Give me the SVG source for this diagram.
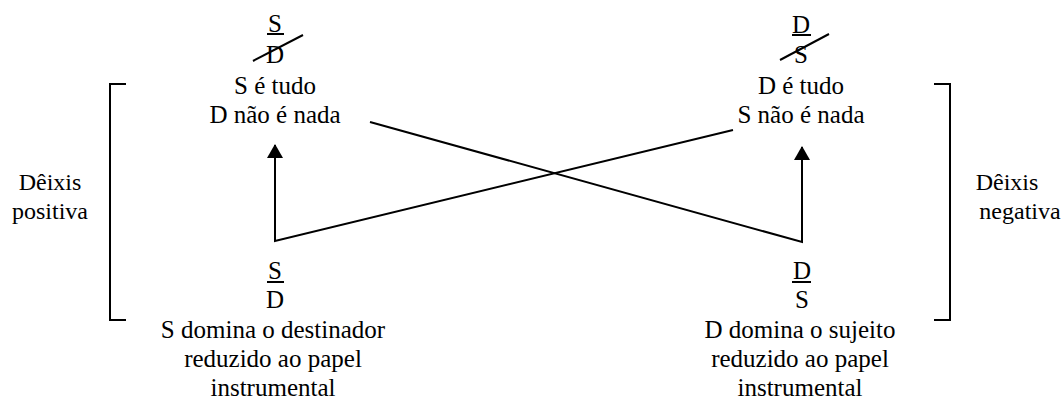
<svg xmlns="http://www.w3.org/2000/svg" width="1064" height="403" viewBox="0 0 1064 403">
  <style>
    text { font-family: "Liberation Serif", "Times New Roman", serif; font-size: 25px; fill: #000; text-anchor: middle; }
    .side { font-size: 24px; }
    .ln { stroke: #000; stroke-width: 2; fill: none; }
    .bk { stroke: #000; stroke-width: 2; fill: none; }
  </style>
  <defs>
    <marker id="arrow" viewBox="0 0 14 16" refX="13" refY="8" markerWidth="14" markerHeight="16" markerUnits="userSpaceOnUse" orient="auto">
      <path d="M0,0 L14,8 L0,16 Z" fill="#000"/>
    </marker>
  </defs>

  <!-- brackets -->
  <g id="bracket-left">
    <path class="bk" d="M126,84 H110 V320 H126"/>
  </g>
  <g id="bracket-right">
    <path class="bk" d="M934,84 H950 V320 H934"/>
  </g>

  <!-- side labels -->
  <g id="label-positive">
    <text class="side" x="50" y="190">Dêixis</text>
    <text class="side" x="50" y="219">positiva</text>
  </g>
  <g id="label-negative">
    <text class="side" x="1007" y="190">Dêixis</text>
    <text class="side" x="1020" y="219">negativa</text>
  </g>

  <!-- top left: S over struck D -->
  <g id="top-left">
    <text x="275" y="32">S</text>
    <line class="ln" x1="267" y1="34" x2="284" y2="34"/>
    <text x="275" y="63">D</text>
    <line class="ln" x1="253" y1="61" x2="303" y2="35"/>
    <text x="275" y="94">S é tudo</text>
    <text x="275" y="123">D não é nada</text>
  </g>

  <!-- top right: D over struck S -->
  <g id="top-right">
    <text x="801" y="33">D</text>
    <line class="ln" x1="792" y1="35" x2="811" y2="35"/>
    <text x="801" y="63">S</text>
    <line class="ln" x1="780" y1="60" x2="829" y2="34"/>
    <text x="801" y="94">D é tudo</text>
    <text x="801" y="123">S não é nada</text>
  </g>

  <!-- bottom left -->
  <g id="bottom-left">
    <text x="275" y="279">S</text>
    <line class="ln" x1="267" y1="282" x2="284" y2="282"/>
    <text x="275" y="308">D</text>
    <text x="273" y="338">S domina o destinador</text>
    <text x="273" y="367">reduzido ao papel</text>
    <text x="273" y="396">instrumental</text>
  </g>

  <!-- bottom right -->
  <g id="bottom-right">
    <text x="802" y="279">D</text>
    <line class="ln" x1="792" y1="282" x2="811" y2="282"/>
    <text x="802" y="308">S</text>
    <text x="800" y="338">D domina o sujeito</text>
    <text x="800" y="367">reduzido ao papel</text>
    <text x="800" y="396">instrumental</text>
  </g>

  <!-- connectors -->
  <g id="connectors">
    <polyline class="ln" points="733,130 275,241 275,145" marker-end="url(#arrow)"/>
    <polyline class="ln" points="370,122 802,242 802,147" marker-end="url(#arrow)"/>
  </g>
</svg>
